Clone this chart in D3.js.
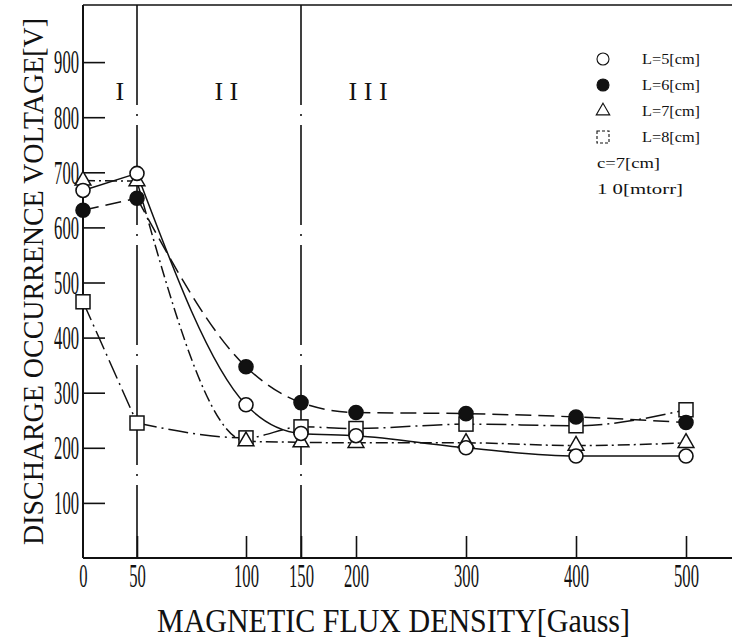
<!DOCTYPE html>
<html>
<head>
<meta charset="utf-8">
<script src="https://cdn.jsdelivr.net/npm/d3@7"></script>
<style>
  body { margin: 0; background: #fff; }
  svg { display: block; }
  text { font-family: "Liberation Serif", serif; fill: #111; }
</style>
</head>
<body>
<svg id="chart" width="732" height="641"></svg>
<script>
// magnetic flux density [Gauss]
const gauss = [0, 50, 100, 150, 200, 300, 400, 500];
// discharge occurrence voltage [V] per electrode spacing L
const volt_L5 = [667, 698, 278, 226, 222, 200, 185, 185];
const volt_L6 = [631, 653, 347, 282, 264, 262, 256, 246];
const volt_L7 = [685, 684, 212, 210, 209, 209, 204, 209];
const volt_L8 = [465, 245, 218, 238, 235, 243, 240, 269];

const seriesNames = ['L=5[cm]', 'L=6[cm]', 'L=7[cm]', 'L=8[cm]'];
const xTicks = [0, 50, 100, 150, 200, 300, 400, 500];
const yTicks = [100, 200, 300, 400, 500, 600, 700, 800, 900];
const regionBounds = [50, 150];
const regionLabels = ['I', 'I I', 'I I I'];
const regionLabelAt = [34, 91, 211];
const notes = ['c=7[cm]', '1 0[mtorr]'];

const svg = d3.select('#chart');

// the paper's axis is not uniform below 100 gauss
const x = d3.scaleLinear()
    .domain([0, 50, 100, 500])
    .range([83, 137, 246, 686]);

const y = d3.scaleLinear()
    .domain([0, 1000])
    .range([558, 7]);

const series = [
  {name: seriesNames[0], vals: volt_L5, sym: 'circle', fill: '#fff', dash: null},
  {name: seriesNames[1], vals: volt_L6, sym: 'circle', fill: '#111', dash: '16,7'},
  {name: seriesNames[2], vals: volt_L7, sym: 'triangle', fill: '#fff', dash: '12,4,2,4'},
  {name: seriesNames[3], vals: volt_L8, sym: 'square', fill: '#fff', dash: '20,5,2,5'}
];

// frame lines
svg.append('line').attr('x1', 83).attr('x2', 732).attr('y1', y(1000) - 2).attr('y2', y(1000) - 2)
    .attr('stroke', '#111').attr('stroke-width', 1.6);
svg.append('line').attr('x1', 83).attr('x2', 732).attr('y1', y(0)).attr('y2', y(0))
    .attr('stroke', '#111').attr('stroke-width', 2);
svg.append('line').attr('x1', x(0)).attr('x2', x(0)).attr('y1', y(1000) - 2).attr('y2', y(0))
    .attr('stroke', '#111').attr('stroke-width', 2);

// axes
const yAxis = svg.append('g')
    .attr('transform', `translate(${x(0)},0)`)
    .call(d3.axisLeft(y).tickValues(yTicks).tickSize(-22).tickPadding(4));
const xAxis = svg.append('g')
    .attr('transform', `translate(0,${y(0)})`)
    .call(d3.axisBottom(x).tickValues(xTicks).tickSize(-22).tickPadding(5));

[yAxis, xAxis].forEach(ax => {
  ax.select('.domain').remove();
  ax.selectAll('.tick line').attr('stroke', '#111').attr('stroke-width', 1.6);
  ax.selectAll('.tick text')
      .style('font-family', '"Liberation Serif", serif')
      .style('font-size', '34px')
      .attr('fill', '#111')
      .attr('textLength', d => String(d).length * 8.3)
      .attr('lengthAdjust', 'spacingAndGlyphs');
});
xAxis.selectAll('.tick').filter(d => d === 0).select('line').remove();

// region dividers
svg.selectAll('.divider')
  .data(regionBounds)
  .enter().append('line')
    .attr('class', 'divider')
    .attr('x1', d => x(d)).attr('x2', d => x(d))
    .attr('y1', y(1000) - 2).attr('y2', y(0))
    .attr('stroke', '#111').attr('stroke-width', 1.6)
    .attr('stroke-dasharray', '100,9,2,9');

svg.selectAll('.region')
  .data(regionLabels)
  .enter().append('text')
    .attr('class', 'region')
    .attr('x', (d, i) => x(regionLabelAt[i]))
    .attr('y', 100)
    .attr('text-anchor', 'middle')
    .style('font-size', '26px')
    .text(d => d);

// lines: straight from 0 to 50, then a smooth fall
const straight = d3.line()
    .x((d, i) => x(gauss[i]))
    .y(d => y(d));
const smooth = d3.line()
    .x((d, i) => x(gauss[i + 1]))
    .y(d => y(d))
    .curve(d3.curveMonotoneX);

series.forEach(s => {
  svg.append('path')
      .attr('d', straight(s.vals.slice(0, 2)))
      .attr('fill', 'none').attr('stroke', '#111').attr('stroke-width', 1.5)
      .attr('stroke-dasharray', s.dash);
  svg.append('path')
      .attr('d', smooth(s.vals.slice(1)))
      .attr('fill', 'none').attr('stroke', '#111').attr('stroke-width', 1.5)
      .attr('stroke-dasharray', s.dash);
});

// markers
function drawSymbol(g, sym, fill, size) {
  if (sym === 'circle') {
    g.append('circle').attr('r', size).attr('fill', fill).attr('stroke', '#111').attr('stroke-width', 1.6);
  } else if (sym === 'square') {
    g.append('rect').attr('x', -size).attr('y', -size).attr('width', size * 2).attr('height', size * 2)
      .attr('fill', fill).attr('stroke', '#111').attr('stroke-width', 1.5);
  } else {
    g.append('path').attr('d', d3.symbol(d3.symbolTriangle, size * size * 2.2)())
      .attr('fill', fill).attr('stroke', '#111').attr('stroke-width', 1.5);
  }
}

series.slice().reverse().forEach(s => {
  s.vals.forEach((v, i) => {
    const g = svg.append('g').attr('transform', `translate(${x(gauss[i])},${y(v)})`);
    drawSymbol(g, s.sym, s.fill, 7);
  });
});

// legend
const legend = svg.append('g');
series.forEach((s, i) => {
  const g = legend.append('g').attr('transform', `translate(603,${59 + i * 26})`);
  drawSymbol(g, s.sym, s.fill, 6);
  g.select('*').attr('stroke-width', 1.1);
  if (s.sym === 'square') g.select('*').attr('stroke-dasharray', '3,2');
  g.append('text').attr('x', 39).attr('y', 5)
      .attr('textLength', 58).attr('lengthAdjust', 'spacingAndGlyphs')
      .style('font-size', '14px').text(s.name);
});
notes.forEach((t, i) => {
  legend.append('text').attr('x', 597).attr('y', 168 + i * 26)
      .attr('textLength', i === 0 ? 63 : 86).attr('lengthAdjust', 'spacingAndGlyphs')
      .style('font-size', '14px').text(t);
});

// titles
svg.append('text')
    .attr('x', 157).attr('y', 632)
    .attr('textLength', 473).attr('lengthAdjust', 'spacingAndGlyphs')
    .style('font-size', '33px')
    .text('MAGNETIC FLUX DENSITY[Gauss]');

svg.append('text')
    .attr('transform', 'translate(43,545) rotate(-90) scale(1,1.2)')
    .attr('textLength', 527).attr('lengthAdjust', 'spacingAndGlyphs')
    .style('font-size', '25px')
    .text('DISCHARGE OCCURRENCE VOLTAGE[V]');
</script>
</body>
</html>
